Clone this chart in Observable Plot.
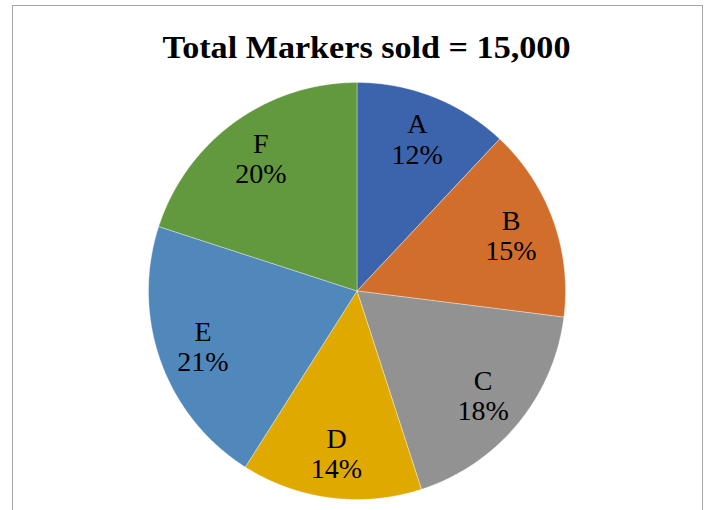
<!DOCTYPE html>
<html>
<head>
<meta charset="utf-8">
<script src="https://cdn.jsdelivr.net/npm/d3@7"></script>
<script src="https://cdn.jsdelivr.net/npm/@observablehq/plot@0.6"></script>
<style>
  body { margin: 0; background: #fff; }
  #wrap { position: relative; width: 709px; height: 510px; overflow: hidden; background: #fff; }
  #border { position: absolute; left: 12px; top: 5px; width: 691px; height: 540px; border: 1px solid #a6a6a6; box-sizing: border-box; }
  #chart { position: absolute; left: 0; top: 0; }
</style>
</head>
<body>
<div id="wrap"><div id="border"></div><div id="chart"></div></div>
<script>
// ---- data ----
const categories = ["A", "B", "C", "D", "E", "F"];
const shares = [12, 15, 18, 14, 21, 20];           // percent of markers sold
const sliceColors = ["#3c64ac", "#d16e2b", "#929292", "#e0a900", "#5088bc", "#62983e"];
const chartTitle = "Total Markers sold = 15,000";

// ---- build tables ----
const rows = categories.map((c, i) => ({cat: c, share: shares[i]}));
const arcs = d3.pie().sort(null).value(d => d.share)(rows);

// wedge outlines in unit-radius data space (angle clockwise from 12 o'clock)
const wedgePts = [];
for (const a of arcs) {
  const n = Math.max(2, Math.ceil((a.endAngle - a.startAngle) / 0.005));
  wedgePts.push({cat: a.data.cat, x: 0, y: 0});
  for (let k = 0; k <= n; k++) {
    const t = a.startAngle + (a.endAngle - a.startAngle) * k / n;
    wedgePts.push({cat: a.data.cat, x: Math.sin(t), y: Math.cos(t)});
  }
  wedgePts.push({cat: a.data.cat, x: 0, y: 0});
}

const labelR = 0.785;
const labels = arcs.map(a => {
  const m = (a.startAngle + a.endAngle) / 2;
  return {x: labelR * Math.sin(m), y: labelR * Math.cos(m), text: `${a.data.cat}\n${a.data.share}%`};
});

// layout: pie centre (356.5, 290.5) px, radius 208.5 px
const W = 709, H = 510, cx = 356.5, cy = 290.5, R = 208.5;

const plot = Plot.plot({
  width: W,
  height: H,
  margin: 0,
  style: {background: "transparent", overflow: "visible"},
  x: {domain: [-cx / R, (W - cx) / R], axis: null},
  y: {domain: [-(H - cy) / R, cy / R], axis: null},
  color: {domain: categories, range: sliceColors},
  marks: [
    Plot.line(wedgePts, {x: "x", y: "y", z: "cat", fill: "cat", stroke: "white", strokeWidth: 0.5, strokeOpacity: 0.7, curve: "linear-closed"}),
    Plot.text(labels, {x: "x", y: "y", text: "text", fontSize: 28, fontFamily: "Liberation Serif", lineHeight: 1.08, fill: "#000"}),
    Plot.text([chartTitle], {frameAnchor: "top", dx: 11.5, dy: 48, lineAnchor: "middle", fontSize: 31, fontWeight: "bold", fontFamily: "Liberation Serif", fill: "#000", className: "pie-title"})
  ]
});

document.getElementById("chart").appendChild(plot);
d3.select(plot).selectAll(".pie-title text")
  .attr("textLength", 408)
  .attr("lengthAdjust", "spacingAndGlyphs");
</script>
</body>
</html>
